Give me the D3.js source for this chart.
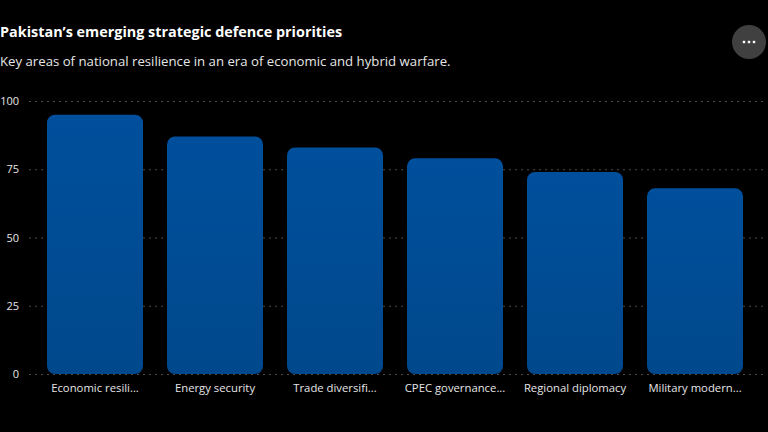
<!DOCTYPE html>
<html>
<head>
<meta charset="utf-8">
<script src="https://cdn.jsdelivr.net/npm/d3@7"></script>
<style>
  html, body { margin: 0; padding: 0; background: #000; }
  svg { display: block; font-family: "Open Sans", "Noto Sans", sans-serif; }
</style>
</head>
<body>
<svg id="chart" width="768" height="432"></svg>
<script>
// Chart data
var categories = ["Economic resilience", "Energy security", "Trade diversification",
    "CPEC governance and security", "Regional diplomacy", "Military modernisation"];
var values = [95, 87, 83, 79, 74, 68];
var yTicks = [0, 25, 50, 75, 100];

var svg = d3.select("#chart");

// Title and subtitle
svg.append("text")
    .attr("x", 0).attr("y", 37)
    .attr("fill", "#fff")
    .attr("font-size", 14.4)
    .attr("font-weight", "bold")
    .text("Pakistan\u2019s emerging strategic defence priorities");

svg.append("text")
    .attr("x", 0).attr("y", 66)
    .attr("fill", "#e6e6e6")
    .attr("font-size", 13.2)
    .text("Key areas of national resilience in an era of economic and hybrid warfare.");

// Menu button (top right)
svg.append("circle")
    .attr("cx", 749).attr("cy", 42).attr("r", 17)
    .attr("fill", "#404040");
[-5, 0, 5].forEach(function (dx) {
    svg.append("rect")
        .attr("x", 749 + dx - 1.2).attr("y", 40.8)
        .attr("width", 2.4).attr("height", 2.4)
        .attr("fill", "#fff");
});

// Scales
var x = d3.scaleBand()
    .domain(categories)
    .range([35, 755])
    .paddingInner(0.2)
    .paddingOuter(0.1);

var y = d3.scaleLinear()
    .domain([0, 100])
    .range([374, 101]);

// Gradient for the bars
var grad = svg.append("defs").append("linearGradient")
    .attr("id", "barGrad")
    .attr("x1", 0).attr("y1", 0).attr("x2", 0).attr("y2", 1);
grad.append("stop").attr("offset", "0%").attr("stop-color", "#004f9c");
grad.append("stop").attr("offset", "100%").attr("stop-color", "#00488c");

// Gridlines
svg.append("g")
    .selectAll("line")
    .data(yTicks)
    .enter()
    .append("line")
    .attr("x1", 29).attr("x2", 764)
    .attr("y1", function (d) { return y(d) + 0.5; })
    .attr("y2", function (d) { return y(d) + 0.5; })
    .attr("stroke", "#4a4a4a")
    .attr("stroke-width", 1)
    .attr("stroke-dasharray", "2,4");

// Y axis labels
var yAxis = d3.axisLeft(y).tickValues(yTicks).tickSize(0).tickPadding(0);
var yg = svg.append("g")
    .attr("transform", "translate(19,0)")
    .call(yAxis);
yg.select(".domain").remove();
yg.selectAll("text")
    .attr("fill", "#e6e6e6")
    .attr("font-size", 11)
    .attr("font-family", "\"Open Sans\", \"Noto Sans\", sans-serif");

// Bars
svg.append("g")
    .selectAll("rect")
    .data(values)
    .enter()
    .append("rect")
    .attr("x", function (d, i) { return x(categories[i]); })
    .attr("y", function (d) { return y(d); })
    .attr("width", x.bandwidth())
    .attr("height", function (d) { return y(0) - y(d); })
    .attr("rx", 8).attr("ry", 8)
    .attr("fill", "url(#barGrad)");

// X axis labels, long names cut short like the original
function shortLabel(s) {
    return s.length > 18 ? s.slice(0, 15) + "..." : s;
}

var xAxis = d3.axisBottom(x).tickSize(0).tickPadding(0).tickFormat(shortLabel);
var xg = svg.append("g")
    .attr("transform", "translate(0,384)")
    .call(xAxis);
xg.select(".domain").remove();
xg.selectAll("text")
    .attr("fill", "#e6e6e6")
    .attr("font-size", 11.3)
    .attr("font-family", "\"Open Sans\", \"Noto Sans\", sans-serif");
</script>
</body>
</html>
